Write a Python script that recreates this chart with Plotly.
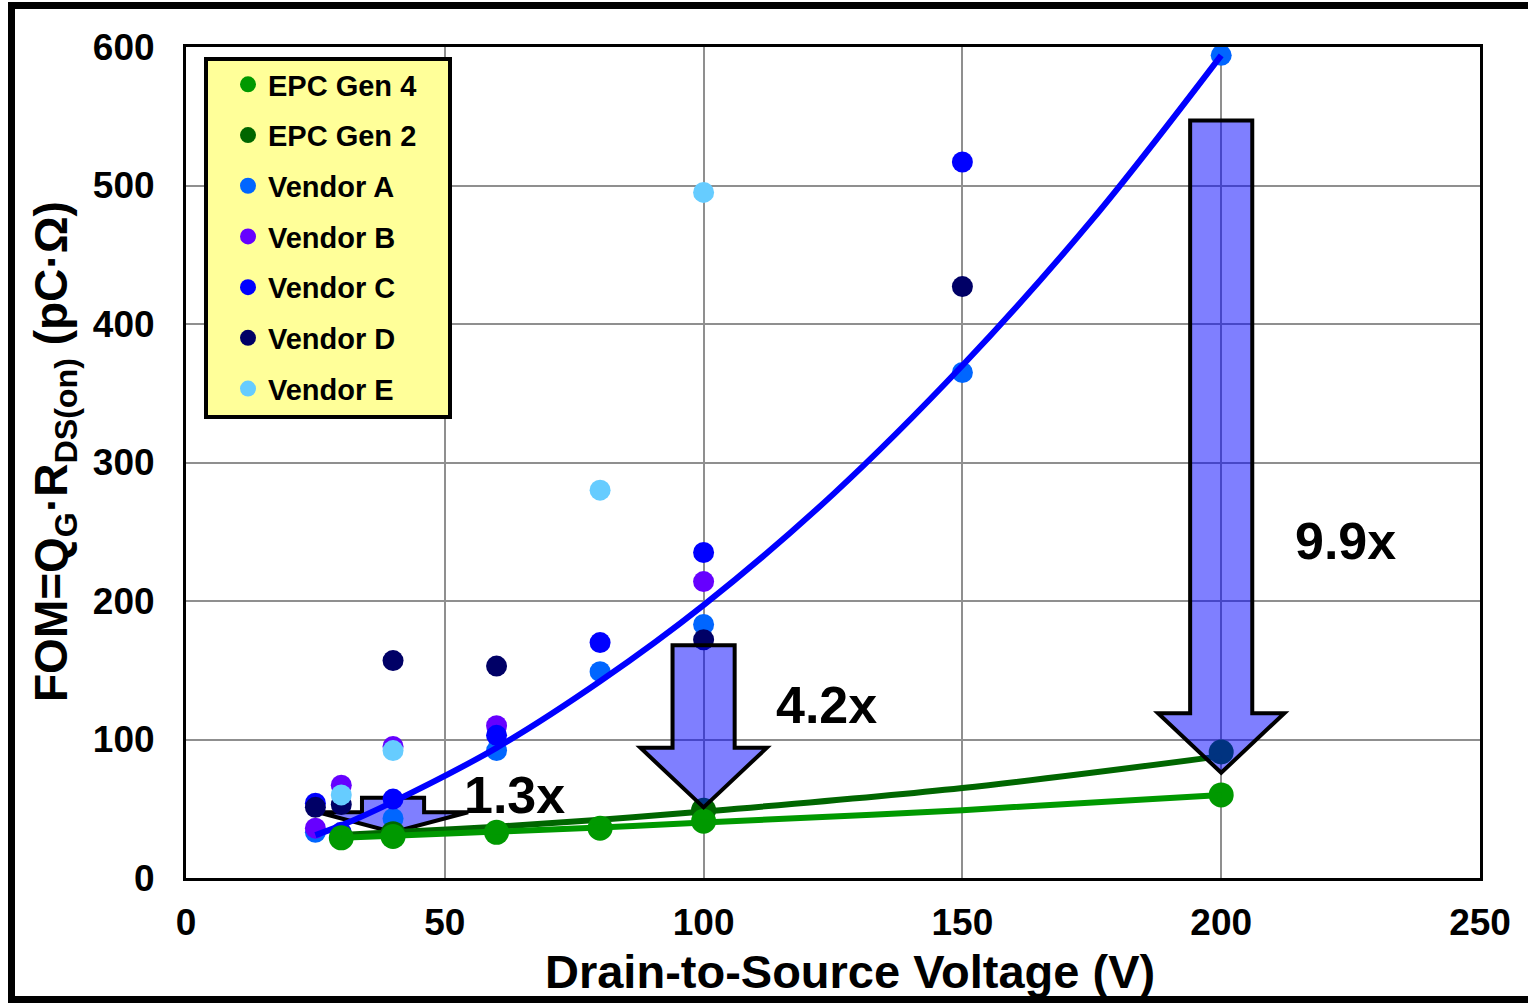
import plotly.graph_objects as go

# ---------------------------------------------------------------- data
# Figure of merit (pC·Ω) against rated drain-to-source voltage (V)
gen4_v = [30, 40, 60, 80, 100, 200]
gen4_fom = [29, 30, 33, 36, 41, 60]

gen2_v = [40, 100, 200]
gen2_fom = [32, 49, 91]

vendor_a_v = [25, 40, 60, 80, 100, 150, 200]
vendor_a_fom = [33, 43, 92, 149, 183, 365, 594]

vendor_b_v = [25, 30, 40, 60, 100]
vendor_b_fom = [36, 67, 95, 110, 214]

vendor_c_v = [25, 30, 40, 60, 80, 100, 150]
vendor_c_fom = [54, 33, 57, 103, 170, 235, 517]

vendor_d_v = [25, 30, 40, 60, 100, 150]
vendor_d_fom = [51, 53, 157, 153, 172, 427]

vendor_e_v = [30, 40, 80, 100]
vendor_e_fom = [60, 92, 280, 495]

# Trend curves
silicon_trend_v = [25, 30, 40, 60, 80, 100, 125, 150, 175, 200]
silicon_trend_fom = [31, 38, 55, 94, 142, 197, 277, 370, 475, 594]

gen2_trend_v = [30, 40, 60, 80, 100, 150, 200]
gen2_trend_fom = [31, 33, 37, 42, 48, 65, 88]

gen4_trend_v = [30, 40, 60, 80, 100, 150, 200]
gen4_trend_fom = [29, 30.5, 33.5, 36.5, 40, 49, 60]

# Improvement arrows: voltage, start value, end value, label
arrow_v = [40, 100, 200]
arrow_from = [58, 168, 547]
arrow_to = [33, 51, 76]
arrow_labels = ["1.3x", "4.2x", "9.9x"]
label_v = [63.5, 123.8, 224.1]
label_fom = [60, 125, 243]

x_ticks = [0, 50, 100, 150, 200, 250]
y_ticks = [0, 100, 200, 300, 400, 500, 600]

# ---------------------------------------------------------------- style
FONT = "Liberation Sans, Arial, sans-serif"
W, H = 1528, 1003
L, R, T, B = 186, 48, 47, 125
PW, PH = W - L - R, H - T - B


def px_x(px):
    return (px - L) / PW


def px_y(py):
    return (H - B - py) / PH


fig = go.Figure()

vendors = [
    ("Vendor A", vendor_a_v, vendor_a_fom, "#0066FF", 3),
    ("Vendor B", vendor_b_v, vendor_b_fom, "#6600FF", 4),
    ("Vendor C", vendor_c_v, vendor_c_fom, "#0000FF", 5),
    ("Vendor D", vendor_d_v, vendor_d_fom, "#000066", 6),
    ("Vendor E", vendor_e_v, vendor_e_fom, "#66CCFF", 7),
]
for name, xs, ys, col, rank in vendors:
    fig.add_trace(go.Scatter(
        x=xs, y=ys, mode="markers", name=name, legendgroup=name,
        legendrank=rank, marker=dict(size=21, color=col),
    ))

fig.add_trace(go.Scatter(
    x=silicon_trend_v, y=silicon_trend_fom, mode="lines", showlegend=False,
    line=dict(color="#0000FF", width=6, shape="spline"), hoverinfo="skip",
))

fig.add_trace(go.Scatter(
    x=gen2_v, y=gen2_fom, mode="markers", name="EPC Gen 2",
    legendgroup="EPC Gen 2", legendrank=2,
    marker=dict(size=25, color="#006600"),
))
fig.add_trace(go.Scatter(
    x=gen2_trend_v, y=gen2_trend_fom, mode="lines", showlegend=False,
    line=dict(color="#006600", width=6, shape="spline"), hoverinfo="skip",
))
fig.add_trace(go.Scatter(
    x=gen4_v, y=gen4_fom, mode="markers", name="EPC Gen 4",
    legendgroup="EPC Gen 4", legendrank=1,
    marker=dict(size=25, color="#009900"),
))
fig.add_trace(go.Scatter(
    x=gen4_trend_v, y=gen4_trend_fom, mode="lines", showlegend=False,
    line=dict(color="#009900", width=6, shape="spline"), hoverinfo="skip",
))

shapes = []

# Block arrows showing the gap between silicon and GaN
for v, y0, y1 in zip(arrow_v, arrow_from, arrow_to):
    length = y0 - y1
    head_len = min(43.0, 0.58 * length)
    head_hw = 12.2 if length > 50 else 14.5
    shaft_hw = 6.0
    yb = y1 + head_len
    pts = [(v - shaft_hw, y0), (v + shaft_hw, y0), (v + shaft_hw, yb),
           (v + head_hw, yb), (v, y1), (v - head_hw, yb), (v - shaft_hw, yb)]
    path = "M " + " L ".join(f"{px},{py}" for px, py in pts) + " Z"
    shapes.append(dict(
        type="path", path=path, xref="x", yref="y",
        fillcolor="rgba(0,0,255,0.5)", line=dict(color="black", width=4),
        layer="between" if length < 50 else "above",
    ))

# Legend panel
shapes.append(dict(
    type="rect", xref="paper", yref="paper",
    x0=px_x(206), x1=px_x(450), y0=px_y(417), y1=px_y(59),
    fillcolor="#FFFF99", line=dict(color="black", width=4), layer="above",
))

# Outer frame
shapes.append(dict(
    type="path", xref="paper", yref="paper",
    path=(f"M {px_x(1540)},{px_y(5.5)} L {px_x(11.5)},{px_y(5.5)} "
          f"L {px_x(11.5)},{px_y(999.5)} L {px_x(1540)},{px_y(999.5)}"),
    line=dict(color="black", width=7), layer="above",
))

annotations = []
for txt, lx, ly in zip(arrow_labels, label_v, label_fom):
    annotations.append(dict(
        x=lx, y=ly, xref="x", yref="y", text=txt, showarrow=False,
        xanchor="center", yanchor="middle",
        font=dict(family=FONT, size=52, color="black", weight="bold"),
    ))

annotations.append(dict(
    x=px_x(850), y=px_y(972), xref="paper", yref="paper",
    xanchor="center", yanchor="middle",
    text="Drain-to-Source Voltage (V)", showarrow=False,
    font=dict(family=FONT, size=47, color="black", weight="bold"),
))
annotations.append(dict(
    x=px_x(54), y=px_y(452), xref="paper", yref="paper",
    xanchor="center", yanchor="middle",
    text="FOM=Q<sub>G</sub>·R<sub>DS(on)</sub> (pC·Ω)", showarrow=False,
    textangle=-90,
    font=dict(family=FONT, size=46, color="black", weight="bold"),
))

fig.update_layout(
    width=W, height=H,
    margin=dict(l=L, r=R, t=T, b=B, pad=0),
    paper_bgcolor="white", plot_bgcolor="white",
    font=dict(family=FONT, color="black"),
    showlegend=True,
    legend=dict(
        x=px_x(228), y=px_y(59), xanchor="left", yanchor="top",
        bgcolor="rgba(0,0,0,0)", borderwidth=0,
        font=dict(family=FONT, size=29, color="black", weight="bold"),
        tracegroupgap=10, itemsizing="trace", itemwidth=30,
    ),
    xaxis=dict(
        range=[0, 250], tickvals=x_ticks, ticks="", showgrid=True,
        gridcolor="#8f8f8f", gridwidth=2, zeroline=False,
        showline=True, mirror=True, linecolor="black", linewidth=3,
        tickfont=dict(family=FONT, size=37, color="black", weight="bold"),
        ticklabelstandoff=10,
    ),
    yaxis=dict(
        range=[0, 600], tickvals=y_ticks, ticks="", showgrid=True,
        gridcolor="#8f8f8f", gridwidth=2, zeroline=False,
        showline=True, mirror=True, linecolor="black", linewidth=3,
        tickfont=dict(family=FONT, size=37, color="black", weight="bold"),
        ticklabelstandoff=21,
    ),
    shapes=shapes,
    annotations=annotations,
)

fig.write_html("out.html")
